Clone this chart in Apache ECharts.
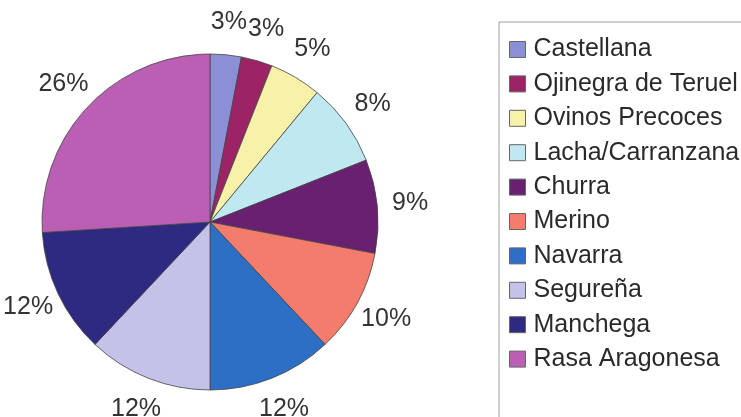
<!DOCTYPE html>
<html>
<head>
<meta charset="utf-8">
<script src="https://cdn.jsdelivr.net/npm/echarts@6/dist/echarts.min.js"></script>
<style>
  html, body { margin: 0; padding: 0; background: #fff; }
  #chart { width: 741px; height: 417px; }
</style>
</head>
<body>
<div id="chart"></div>
<script>
// razas ovinas, % del total
var breeds = ['Castellana', 'Ojinegra de Teruel', 'Ovinos Precoces', 'Lacha/Carranzana', 'Churra',
  'Merino', 'Navarra', 'Segureña', 'Manchega', 'Rasa Aragonesa']
var shares = [3, 3, 5, 8, 9, 10, 12, 12, 12, 26]
var colors = ['#8a8fd6', '#9c2466', '#f8f2a8', '#bfe8f0', '#6a2070',
  '#f47c6c', '#2d6fc4', '#c4c2e8', '#2e2a82', '#bb5fb5']

var pieData = breeds.map(function(name, i) {
  return { name: name, value: shares[i], itemStyle: { color: colors[i] } }
})

var chart = echarts.init(document.getElementById('chart'))
chart.setOption({
  backgroundColor: '#ffffff',
  animation: false,
  legend: {
    orient: 'vertical',
    left: 499,
    top: 22,
    height: 600, // no partir la leyenda en columnas
    padding: [15, 80, 80, 10],
    itemWidth: 16,
    itemHeight: 16,
    itemGap: 9.4,
    icon: 'rect',
    borderColor: '#a0a0a0',
    borderWidth: 1,
    itemStyle: { borderColor: '#666', borderWidth: 1 },
    textStyle: {
      fontFamily: 'Liberation Sans, Arial, sans-serif',
      fontSize: 25,
      lineHeight: 24,
      color: '#2a2a2a',
      padding: [0, 0, 0, 3]
    },
    data: breeds
  },
  series: [
    {
      name: 'razas',
      type: 'pie',
      center: [210, 222],
      radius: 168,
      startAngle: 90,
      clockwise: true,
      itemStyle: { borderColor: '#444', borderWidth: 0.8 },
      label: { show: false },
      labelLine: { show: false },
      emphasis: { disabled: true },
      data: pieData
    },
    {
      // anillo invisible solo para colocar las etiquetas fuera del pastel
      name: 'etiquetas',
      type: 'pie',
      center: [210, 222],
      radius: [168, 228],
      startAngle: 90,
      clockwise: true,
      silent: true,
      itemStyle: { color: 'transparent', borderWidth: 0 },
      label: {
        show: true,
        position: 'inside',
        formatter: '{c}%',
        fontFamily: 'Liberation Sans, Arial, sans-serif',
        fontSize: 25,
        color: '#333'
      },
      labelLine: { show: false },
      emphasis: { disabled: true },
      data: breeds.map(function(name, i) { return { name: name, value: shares[i] } })
    }
  ]
})
</script>
</body>
</html>
